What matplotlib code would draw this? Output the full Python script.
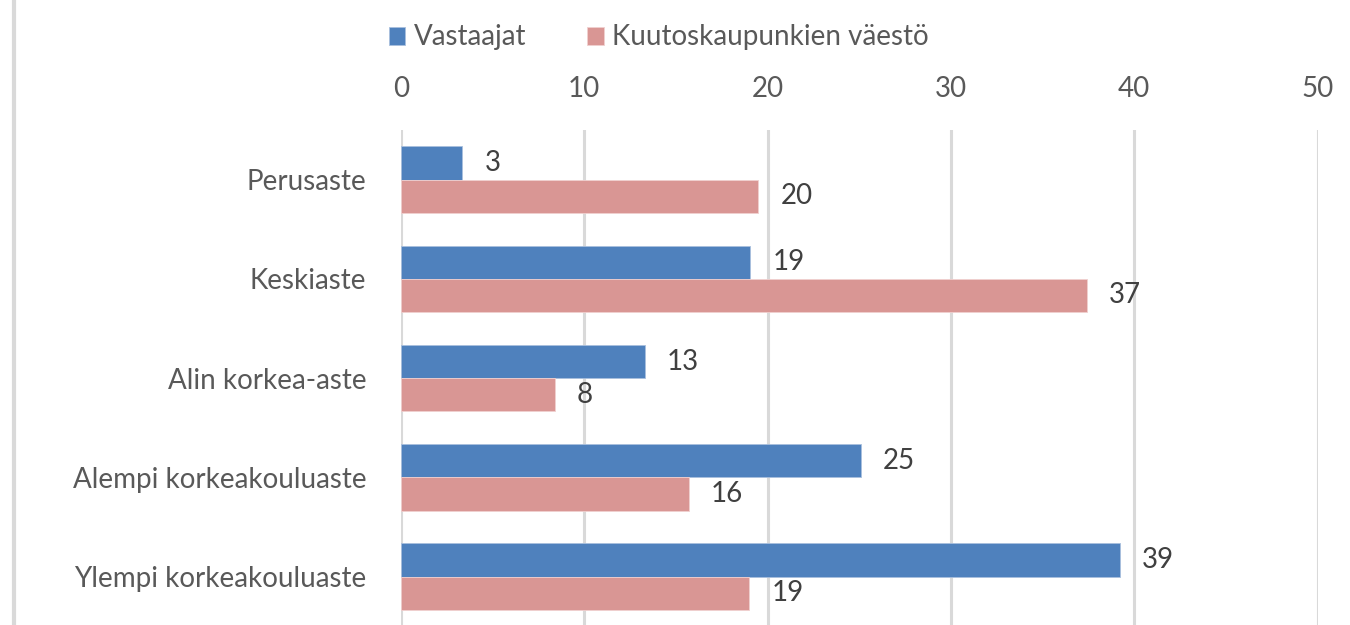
import matplotlib
matplotlib.use('Agg')
import matplotlib.pyplot as plt
from matplotlib.lines import Line2D
import numpy as np

plt.rcParams['font.family'] = ['Lato', 'DejaVu Sans']

# koulutustaso, osuudet (%)
luokat = ['Perusaste', 'Keskiaste', 'Alin korkea-aste',
          'Alempi korkeakouluaste', 'Ylempi korkeakouluaste']
vastaajat = [3.35, 19.05, 13.3, 25.1, 39.2]
vaesto = [19.5, 37.4, 8.4, 15.7, 19.0]
sarjat = ['Vastaajat', 'Kuutoskaupunkien väestö']
xtikit = [0, 10, 20, 30, 40, 50]

sininen = '#4F81BD'
pun = '#D99694'
harmaa = '#595959'
fs = 20

fig = plt.figure(figsize=(13.5, 6.25), dpi=100)
ax = fig.add_axes([0.297, -0.002, 0.679, 0.794])

y = np.arange(len(luokat))
h = 0.335
b1 = ax.barh(y - h/2, vastaajat, height=h, color=sininen, edgecolor='#a9c0de',
             linewidth=0.6, label=sarjat[0], zorder=3)
b2 = ax.barh(y + h/2, vaesto, height=h, color=pun, edgecolor='#f0d0cf',
             linewidth=0.6, label=sarjat[1], zorder=3)

for bars, arvot in ((b1, vastaajat), (b2, vaesto)):
    for bar, v in zip(bars, arvot):
        ax.text(v + 1.2, bar.get_y() + bar.get_height()/2, '{:.0f}'.format(v),
                va='center', ha='left', fontsize=fs, color='#404040')

ax.set_xlim(0, 50)
ax.set_ylim(4.5, -0.5)
ax.set_xticks(xtikit)
ax.set_yticks(y)
ax.set_yticklabels(luokat)
ax.xaxis.tick_top()
ax.tick_params(axis='x', length=0, pad=20, labelsize=fs, labelcolor=harmaa)
ax.tick_params(axis='y', length=0, pad=25, labelsize=fs, labelcolor=harmaa)
ax.grid(axis='x', color='#D9D9D9', linewidth=2.2, zorder=0)
for s in ax.spines.values():
    s.set_visible(False)

leg = fig.legend(handles=[b1, b2], labels=sarjat, loc='center', ncol=2,
                 bbox_to_anchor=(0.488, 0.94), frameon=False, fontsize=fs,
                 handlelength=0.6, handleheight=0.6, handletextpad=0.3,
                 columnspacing=2.2)
for t in leg.get_texts():
    t.set_color(harmaa)

# kaavion reunaviiva vasemmalla
fig.add_artist(Line2D([0.0105, 0.0105], [0, 1], color='#D9D9D9', linewidth=3))

fig.savefig('out.png', dpi=100)
